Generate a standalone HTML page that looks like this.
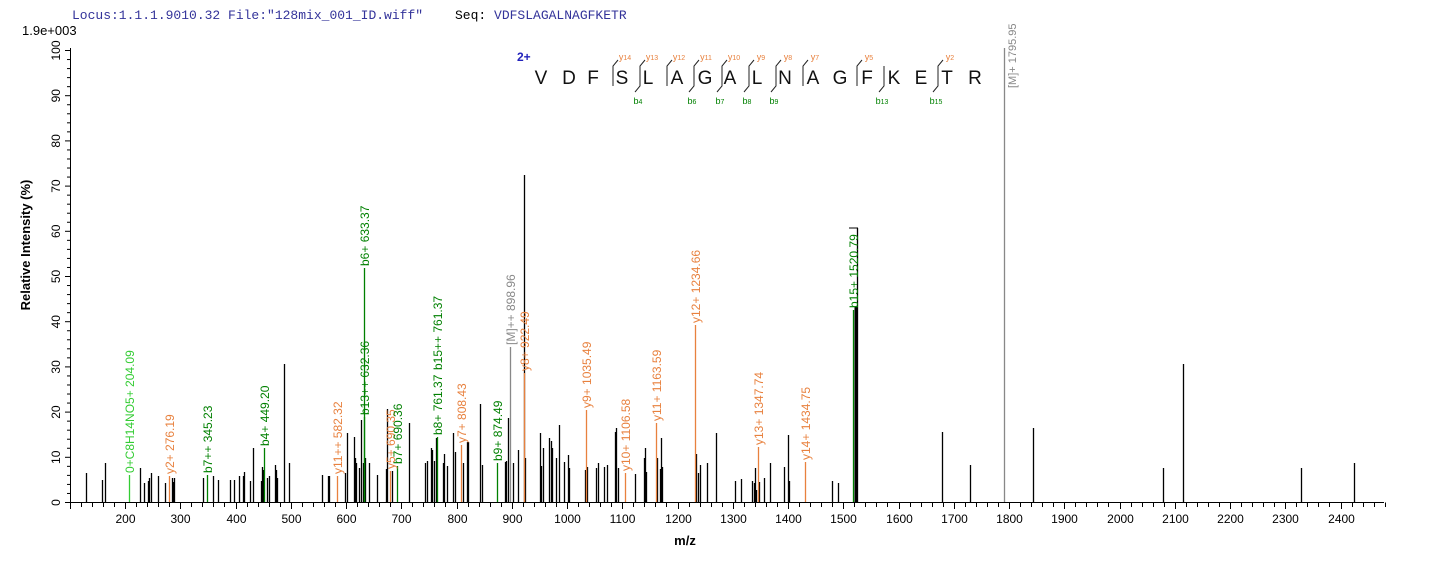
<!DOCTYPE html>
<html><head><meta charset="utf-8"><style>
body{margin:0;background:#fff;width:1436px;height:562px;overflow:hidden}
svg{display:block;font-family:"Liberation Sans",Arial,sans-serif}
</style></head><body>
<svg id="s" width="1436" height="562" viewBox="0 0 1436 562" xmlns="http://www.w3.org/2000/svg">
<text x="72" y="19" font-family="Liberation Mono,monospace" font-size="13" fill="#33339a">Locus:1.1.1.9010.32 File:"128mix_001_ID.wiff"</text>
<text x="455" y="19" font-family="Liberation Mono,monospace" font-size="13" fill="#000">Seq: <tspan fill="#33339a">VDFSLAGALNAGFKETR</tspan></text>
<text x="22" y="35" font-size="13" fill="#000">1.9e+003</text>
<text transform="translate(30,245) rotate(-90)" text-anchor="middle" font-size="13" font-weight="bold">Relative   Intensity (%)</text>
<text x="685" y="545" text-anchor="middle" font-size="13" font-weight="bold">m/z</text>
<g id="ax" stroke="#000" stroke-width="1"></g>
<g id="pk"></g>
<g id="lb" font-size="12"></g>
<g id="seq"></g>
</svg>
<script>
const NS="http://www.w3.org/2000/svg";
function el(p,t,a,txt){const e=document.createElementNS(NS,t);for(const k in a)e.setAttribute(k,a[k]);if(txt!==undefined)e.textContent=txt;p.appendChild(e);return e;}
const ax=document.getElementById('ax'),s=document.getElementById('s');
el(ax,'line',{x1:70.5,y1:48,x2:70.5,y2:502.5});
el(ax,'line',{x1:70,y1:502.5,x2:1384,y2:502.5});
for(let p=0;p<=100;p+=2){const y=502.5-p*4.52;el(ax,'line',{x1:p%10==0?65:67,y1:y,x2:70.5,y2:y});
 if(p%10==0)el(s,'text',{transform:`translate(60,${y}) rotate(-90)`,'text-anchor':'middle','font-size':12,fill:'#000'},String(p));}
const X=m=>125+(m-200)*0.5525;
for(let m=100;m<=2480;m+=20){const x=Math.round(X(m))+0.5;el(ax,'line',{x1:x,y1:502.5,x2:x,y2:m%100==0?509:507});
 if(m%100==0&&m>=200)el(s,'text',{x:x,y:523,'text-anchor':'middle','font-size':12,fill:'#000'},String(m));}
const pk=document.getElementById('pk');
const blk=[[86,473],[102,480],[105,463],[140,468],[144,483],[148,481],[149,478],[151,473],[158,476],[165,483],[172,478],[173,482],[174,478],[203,478],[213,476],[218,480],[230,480],[234,480],[239,476],[243,476],[244,472],[250,481],[253,448],[261,481],[262,467],[263,470],[267,478],[269,476],[275,465],[276,470],[277,478],[284,364],[289,463],[322,475],[328,476],[329,476],[345,473],[347,433],[354,437],[355,458],[356,463],[359,468],[361,420],[363,463],[365,458],[369,463],[377,475],[386,469],[387,409],[392,471],[409,423],
[425,463],[427,461],[431,448],[432,450],[434,461],[436,438],[443,463],[444,454],[447,466],[453,433],[455,452],[463,463],[467,442],[468,442],[480,404],[482,465],[505,462],[506,461],[508,418],[513,463],[518,450],[524,175],[525,458],[540,433],[541,466],[543,448],[549,438],[551,441],[552,448],[556,458],[559,425],[564,462],[568,455],[569,468],[585,470],[587,467],[596,468],[598,463],[604,467],[607,465],[615,432],[616,428],[618,468],[635,474],[644,458],[645,448],[646,472],[657,458],[660,469],[661,438],[662,467],[696,454],[698,473],[700,465],[707,463],[716,433],
[735,481],[741,479],[752,481],[754,483],[755,468],[756,490],[759,482],[764,478],[770,463],[784,467],[788,435],[789,481],[832,481],[838,483],[857,228],[942,432],[970,465],[1033,428],[1163,468],[1183,364],[1301,468],[1354,463]];
blk.forEach(([x,y])=>el(pk,'line',{x1:x+0.5,y1:502,x2:x+0.5,y2:y,stroke:'#000','stroke-width':1.3}));
el(pk,'line',{x1:856,y1:502,x2:856,y2:307,stroke:'#000','stroke-width':3});
el(pk,'line',{x1:849,y1:228,x2:858,y2:228,stroke:'#000','stroke-width':1});
const G='#008000',LG='#33cc33',O='#e8813e',GR='#888';
const lab=[[129,475,'0+C8H14NO5+ 204.09',LG],[169,476,'y2+ 276.19',O],[207,475,'b7++ 345.23',G],[264,448,'b4+ 449.20',G],[337,476,'y11++ 582.32',O],
[364,417,'b13++ 632.36',G],[364,268,'b6+ 633.37',G,1],[390,471,'y5+ 690.35',O],[397,466,'b7+ 690.36',G],[437,437,'b8+ 761.37',G],[437,372,'b15++ 761.37',G,2],
[461,445,'y7+ 808.43',O],[497,463,'b9+ 874.49',G],[510,347,'[M]++ 898.96',GR],[524,373,'y8+ 922.49',O],[586,410,'y9+ 1035.49',O],[625,473,'y10+ 1106.58',O],
[656,423,'y11+ 1163.59',O],[695,325,'y12+ 1234.66',O],[758,447,'y13+ 1347.74',O],[805,462,'y14+ 1434.75',O],[853,310,'b15+ 1520.79',G]];
const lb=document.getElementById('lb');
lab.forEach(([x,y,t,c,f])=>{
 if(f!==2)el(pk,'line',{x1:x+0.5,y1:502,x2:x+0.5,y2:y,stroke:c,'stroke-width':1.3});
 el(lb,'text',{transform:`translate(${x+5},${y-2}) rotate(-90)`,fill:c},t);});
el(pk,'line',{x1:1004.5,y1:48,x2:1004.5,y2:502,stroke:GR,'stroke-width':1.3});
el(lb,'text',{transform:`translate(1016,88) rotate(-90)`,fill:GR,'font-size':11},'[M]+ 1795.95');
const sq=document.getElementById('seq');
const L='VDFSLAGALNAGFKETR'.split(''),LX=[541,569,593,622,648,677,705,730,757,785,813,840,867,894,921,947,975];
L.forEach((c,i)=>el(sq,'text',{x:LX[i],y:84,'text-anchor':'middle','font-size':19,fill:'#111'},c));
el(sq,'text',{x:517,y:61,'font-size':12,'font-weight':'bold',fill:'#2222bb'},'2+');
const ym=[[613,'14'],[640,'13'],[667,'12'],[694,'11'],[722,'10'],[749,'9'],[776,'8'],[803,'7'],[857,'5'],[938,'2']];
ym.forEach(([x,n])=>{el(sq,'path',{d:`M${x} 86V66L${x+5} 60`,stroke:'#222',fill:'none'});
 const t=el(sq,'text',{x:x+12,y:60,'text-anchor':'middle','font-size':9,fill:O},'y');el(t,'tspan',{'font-size':7},n);});
const bm=[[640,'4'],[694,'6'],[722,'7'],[749,'8'],[776,'9'],[884,'13'],[938,'15']];
bm.forEach(([x,n])=>{el(sq,'path',{d:`M${x} 66V86L${x-5} 92`,stroke:'#222',fill:'none'});
 const t=el(sq,'text',{x:x-2,y:104,'text-anchor':'middle','font-size':9,fill:G},'b');el(t,'tspan',{'font-size':7},n);});
</script>
</body></html>
